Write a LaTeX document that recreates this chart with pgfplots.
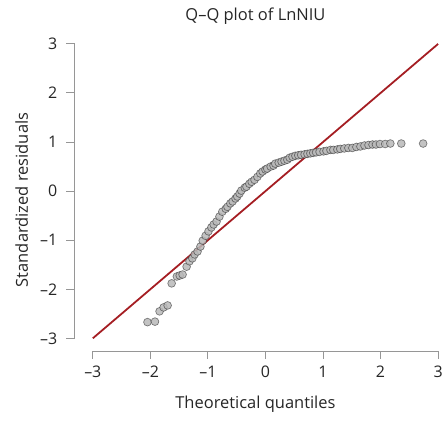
\documentclass[border=0pt]{standalone}
\usepackage{fontspec}
\setmainfont{Open Sans}
\usepackage{pgfplots}
\pgfplotsset{compat=1.18}

\definecolor{refline}{RGB}{165,30,35}
\definecolor{axisgray}{RGB}{150,150,150}
\definecolor{ptfill}{RGB}{185,185,185}

\begin{document}
\begin{tikzpicture}
\begin{axis}[
    scale only axis,
    width=346pt, height=295pt,
    xmin=-3, xmax=3, ymin=-3, ymax=3,
    clip=false,
    axis line style={draw=none},
    major tick length=0pt,
    xtick={-3,-2,-1,0,1,2,3},
    ytick={-3,-2,-1,0,1,2,3},
    xticklabels={–3,–2,–1,0,1,2,3},
    yticklabels={–3,–2,–1,0,1,2,3},
    tick label style={font=\fontsize{16}{18}\selectfont, text=black!85},
    xticklabel style={yshift=-24pt},
    yticklabel style={xshift=-32pt},
    title={Q–Q plot of LnNIU},
    xlabel={Theoretical quantiles},
    ylabel={Standardized residuals},
    title style={at={(axis description cs:0.471,1.0576)}, anchor=base, font=\fontsize{16.5}{18}\selectfont, text=black!85},
    xlabel style={at={(axis description cs:0.471,-0.2373)}, anchor=base, font=\fontsize{16.5}{18}\selectfont, text=black!85},
    ylabel style={at={(axis description cs:-0.1879,0.47)}, anchor=base, font=\fontsize{16.5}{18}\selectfont, text=black!85},
]
% reference line y = x
\addplot[refline, line width=1.8pt] coordinates {(-3,-3) (3,3)};

% residuals
\addplot[only marks, mark=*, mark size=3.9pt,
    mark options={fill=ptfill, draw=black!80, fill opacity=0.85, draw opacity=0.6, line width=0.7pt}]
coordinates {
(-2.05,-2.67) (-1.92,-2.66) (-1.84,-2.45) (-1.77,-2.37) (-1.70,-2.33)
(-1.63,-1.88) (-1.54,-1.74) (-1.49,-1.72) (-1.44,-1.70) (-1.37,-1.54)
(-1.32,-1.43) (-1.27,-1.37) (-1.23,-1.29) (-1.18,-1.23) (-1.13,-1.13)
(-1.09,-1.01) (-1.04,-0.91) (-0.99,-0.82) (-0.94,-0.74) (-0.90,-0.68)
(-0.85,-0.62) (-0.80,-0.52) (-0.75,-0.42) (-0.69,-0.36) (-0.66,-0.32)
(-0.61,-0.25) (-0.57,-0.21) (-0.52,-0.15) (-0.49,-0.11) (-0.45,-0.05)
(-0.42,0.01) (-0.36,0.07) (-0.33,0.09) (-0.28,0.15) (-0.24,0.19)
(-0.19,0.23) (-0.14,0.29) (-0.09,0.36) (-0.05,0.40) (0.00,0.44)
(0.03,0.46) (0.09,0.50) (0.14,0.52) (0.17,0.56) (0.23,0.58)
(0.28,0.60) (0.33,0.62) (0.38,0.64) (0.42,0.68) (0.47,0.70)
(0.52,0.72) (0.57,0.73) (0.62,0.74) (0.68,0.75) (0.73,0.76)
(0.78,0.77) (0.83,0.78) (0.88,0.79) (0.94,0.80) (1.01,0.81)
(1.06,0.82) (1.13,0.84) (1.18,0.84) (1.25,0.85) (1.30,0.86)
(1.37,0.87) (1.44,0.88) (1.51,0.88) (1.58,0.90) (1.65,0.91)
(1.72,0.93) (1.79,0.94) (1.86,0.95) (1.92,0.95) (1.99,0.96)
(2.08,0.96) (2.17,0.97) (2.36,0.97) (2.74,0.97)
};

% detached axis lines with outward ticks
\draw[axisgray, line width=1pt] ([xshift=-18pt]axis cs:-3,-3) -- ([xshift=-18pt]axis cs:-3,3);
\draw[axisgray, line width=1pt] ([yshift=-13pt]axis cs:-3,-3) -- ([yshift=-13pt]axis cs:3,-3);
\pgfplotsinvokeforeach{-3,-2,-1,0,1,2,3}{
    \draw[axisgray, line width=1pt] ([xshift=-18pt]axis cs:-3,#1) -- ([xshift=-27pt]axis cs:-3,#1);
    \draw[axisgray, line width=1pt] ([yshift=-13pt]axis cs:#1,-3) -- ([yshift=-21pt]axis cs:#1,-3);
}

% page frame
\path (axis description cs:-0.2688,-0.2780) rectangle (axis description cs:1.0202,1.1492);
\end{axis}
\end{tikzpicture}
\end{document}
